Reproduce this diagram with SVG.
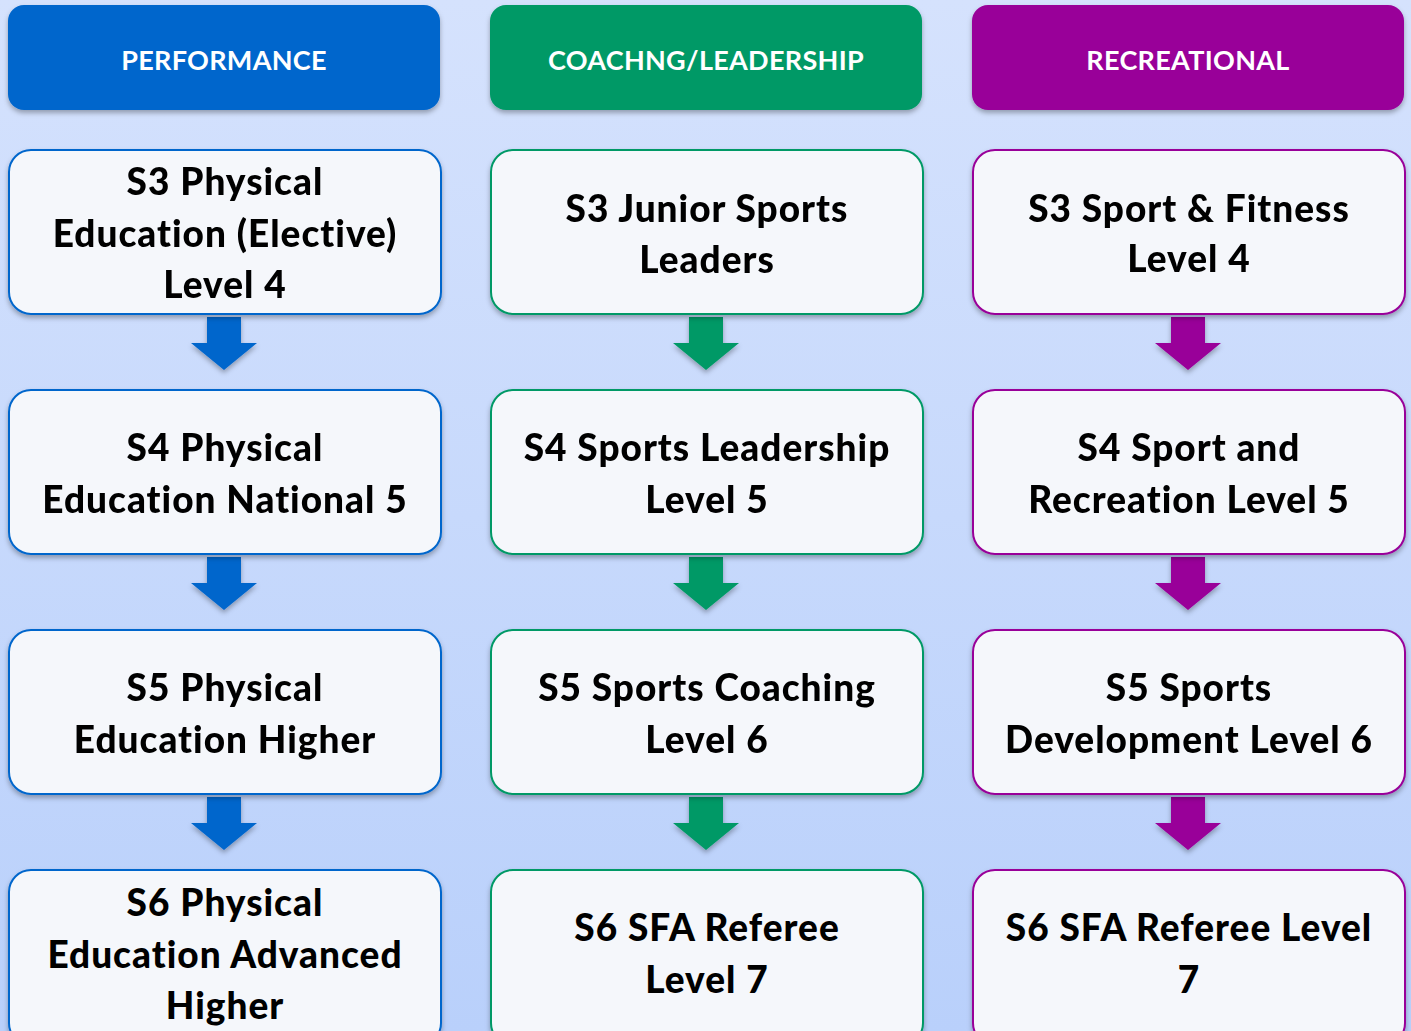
<svg xmlns="http://www.w3.org/2000/svg" width="1411" height="1031" viewBox="0 0 1411 1031">
<defs>
<linearGradient id="bg" x1="0" y1="0" x2="0" y2="1">
<stop offset="0" stop-color="#D5E2FD"/>
<stop offset="1" stop-color="#B9D0FB"/>
</linearGradient>
<filter id="sh" x="-10%" y="-10%" width="120%" height="130%">
<feDropShadow dx="0" dy="3" stdDeviation="2.5" flood-color="#000" flood-opacity="0.3"/>
</filter>
<path id="arr" d="M-17,0 H17 V26 H33 L0,53 L-33,26 H-17 Z"/>
</defs>
<style>
.hdr{font-family:Lato,"Liberation Sans",sans-serif;font-weight:bold;font-size:27px;letter-spacing:0.3px;fill:#fff;text-anchor:middle}
.box{fill:#F5F7FB;stroke-width:2}
.t{font-family:Lato,"Liberation Sans",sans-serif;font-weight:900;font-size:37px;letter-spacing:1px;fill:#000;text-anchor:middle}
.blue{stroke:#0066CC}.green{stroke:#009966}.purple{stroke:#990099}
</style>
<rect width="1411" height="1031" fill="url(#bg)"/>

<g id="connectors" filter="url(#sh)">
<use href="#arr" x="224" y="317" fill="#0066CC"/>
<use href="#arr" x="224" y="557" fill="#0066CC"/>
<use href="#arr" x="224" y="797" fill="#0066CC"/>
<use href="#arr" x="706" y="317" fill="#009966"/>
<use href="#arr" x="706" y="557" fill="#009966"/>
<use href="#arr" x="706" y="797" fill="#009966"/>
<use href="#arr" x="1188" y="317" fill="#990099"/>
<use href="#arr" x="1188" y="557" fill="#990099"/>
<use href="#arr" x="1188" y="797" fill="#990099"/>
</g>

<g id="h-performance"><rect x="8" y="5" width="432" height="105" rx="16" fill="#0066CC" filter="url(#sh)"/><text class="hdr" x="224" y="70">PERFORMANCE</text></g>
<g id="h-coaching"><rect x="490" y="5" width="432" height="105" rx="16" fill="#009966" filter="url(#sh)"/><text class="hdr" x="706" y="70">COACHNG/LEADERSHIP</text></g>
<g id="h-recreational"><rect x="972" y="5" width="432" height="105" rx="16" fill="#990099" filter="url(#sh)"/><text class="hdr" x="1188" y="70">RECREATIONAL</text></g>

<g id="p1"><rect class="box blue" x="9" y="150" width="432" height="164" rx="22" filter="url(#sh)"/><text class="t" x="225"><tspan x="225" y="195">S3 Physical</tspan><tspan x="225" y="247">Education (Elective)</tspan><tspan x="225" y="298">Level 4</tspan></text></g>
<g id="p2"><rect class="box blue" x="9" y="390" width="432" height="164" rx="22" filter="url(#sh)"/><text class="t"><tspan x="225" y="461">S4 Physical</tspan><tspan x="225" y="513">Education National 5</tspan></text></g>
<g id="p3"><rect class="box blue" x="9" y="630" width="432" height="164" rx="22" filter="url(#sh)"/><text class="t"><tspan x="225" y="701">S5 Physical</tspan><tspan x="225" y="753">Education Higher</tspan></text></g>
<g id="p4"><rect class="box blue" x="9" y="870" width="432" height="175" rx="22" filter="url(#sh)"/><text class="t"><tspan x="225" y="916">S6 Physical</tspan><tspan x="225" y="968">Education Advanced</tspan><tspan x="225" y="1019">Higher</tspan></text></g>

<g id="c1"><rect class="box green" x="491" y="150" width="432" height="164" rx="22" filter="url(#sh)"/><text class="t"><tspan x="707" y="222">S3 Junior Sports</tspan><tspan x="707" y="273">Leaders</tspan></text></g>
<g id="c2"><rect class="box green" x="491" y="390" width="432" height="164" rx="22" filter="url(#sh)"/><text class="t"><tspan x="707" y="461">S4 Sports Leadership</tspan><tspan x="707" y="513">Level 5</tspan></text></g>
<g id="c3"><rect class="box green" x="491" y="630" width="432" height="164" rx="22" filter="url(#sh)"/><text class="t"><tspan x="707" y="701">S5 Sports Coaching</tspan><tspan x="707" y="753">Level 6</tspan></text></g>
<g id="c4"><rect class="box green" x="491" y="870" width="432" height="175" rx="22" filter="url(#sh)"/><text class="t"><tspan x="707" y="941">S6 SFA Referee</tspan><tspan x="707" y="993">Level 7</tspan></text></g>

<g id="r1"><rect class="box purple" x="973" y="150" width="432" height="164" rx="22" filter="url(#sh)"/><text class="t"><tspan x="1189" y="222">S3 Sport &amp; Fitness</tspan><tspan x="1189" y="272">Level 4</tspan></text></g>
<g id="r2"><rect class="box purple" x="973" y="390" width="432" height="164" rx="22" filter="url(#sh)"/><text class="t"><tspan x="1189" y="461">S4 Sport and</tspan><tspan x="1189" y="513">Recreation Level 5</tspan></text></g>
<g id="r3"><rect class="box purple" x="973" y="630" width="432" height="164" rx="22" filter="url(#sh)"/><text class="t"><tspan x="1189" y="701">S5 Sports</tspan><tspan x="1189" y="753">Development Level 6</tspan></text></g>
<g id="r4"><rect class="box purple" x="973" y="870" width="432" height="175" rx="22" filter="url(#sh)"/><text class="t"><tspan x="1189" y="941">S6 SFA Referee Level</tspan><tspan x="1189" y="993">7</tspan></text></g>
</svg>
